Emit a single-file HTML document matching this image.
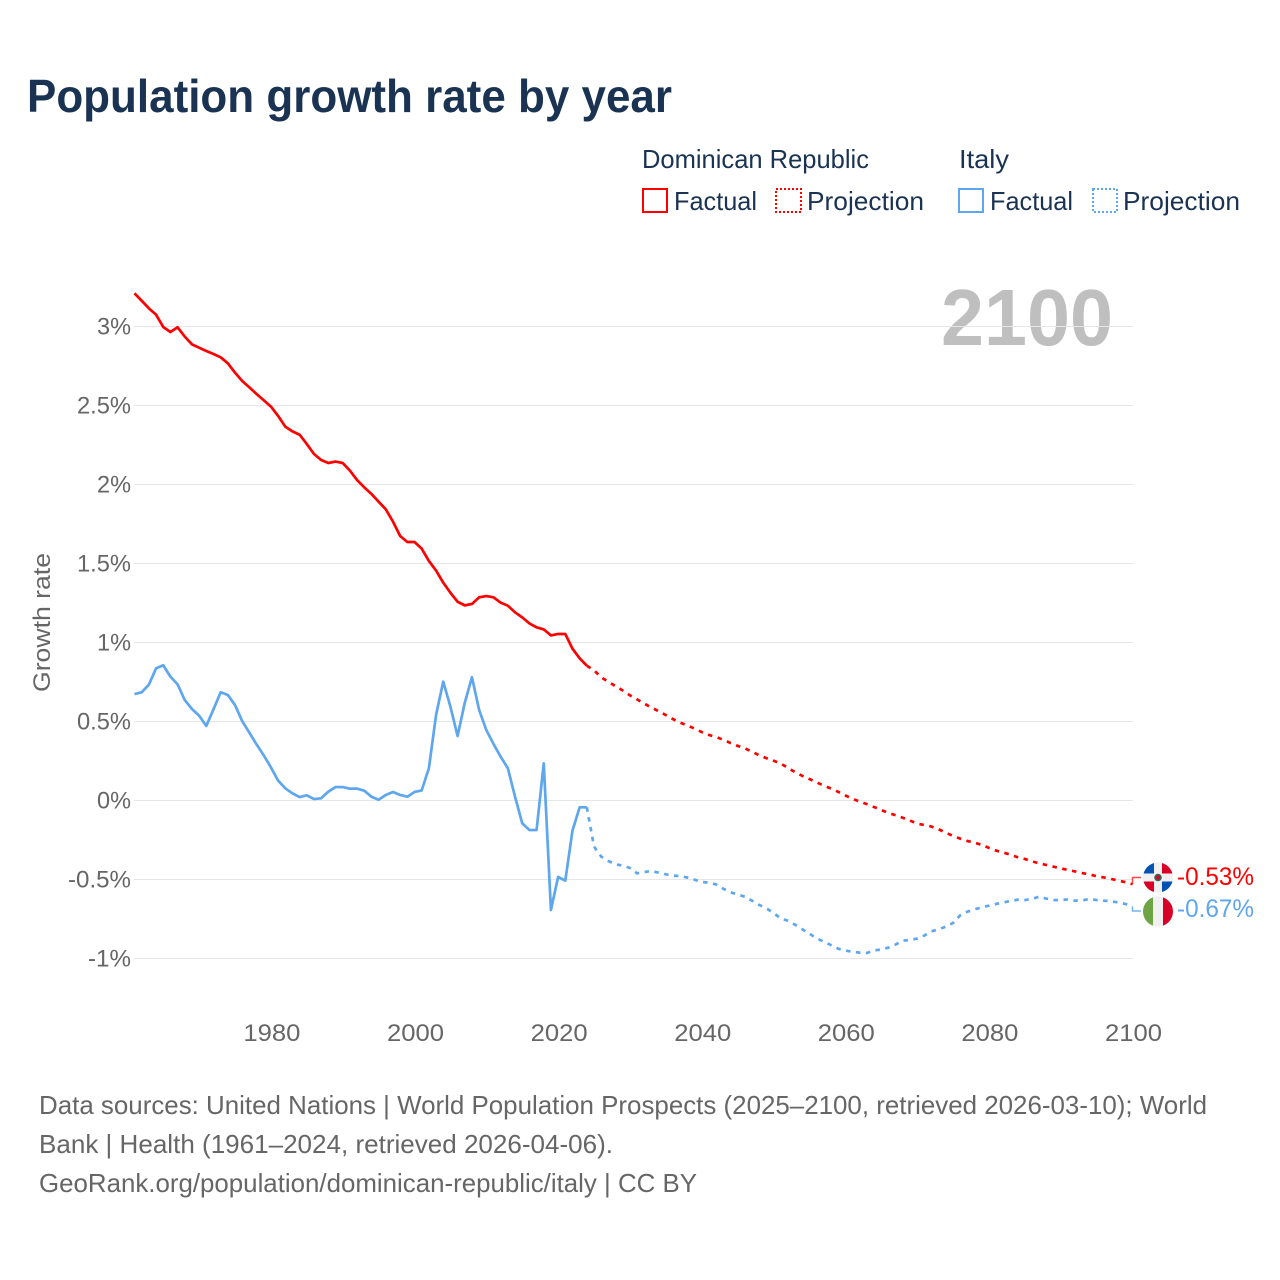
<!DOCTYPE html>
<html lang="en">
<head>
<meta charset="utf-8">
<title>Population growth rate by year</title>
<style>
html,body{margin:0;padding:0;background:#fff;}
svg{display:block;font-family:"Liberation Sans",sans-serif;}
</style>
</head>
<body>
<svg id="chart" xmlns="http://www.w3.org/2000/svg" width="1280" height="1280" viewBox="0 0 1280 1280">
  <rect x="0" y="0" width="1280" height="1280" fill="#ffffff"/>
  <text x="27" y="112" font-size="46" font-weight="700" fill="#1a3353" textLength="645" lengthAdjust="spacingAndGlyphs">Population growth rate by year</text>

  <g font-size="26" fill="#1a3353">
    <text x="642" y="168" textLength="227" lengthAdjust="spacingAndGlyphs">Dominican Republic</text>
    <text x="959" y="168" textLength="50" lengthAdjust="spacingAndGlyphs">Italy</text>
    <g>
      <rect x="643" y="189" width="24" height="23" fill="none" stroke="#ff0000" stroke-width="2"/>
      <text x="674" y="210" textLength="83" lengthAdjust="spacingAndGlyphs">Factual</text>
    </g>
    <g>
      <rect x="776" y="189" width="25" height="23" fill="none" stroke="#ff0000" stroke-width="2" stroke-dasharray="2 2"/>
      <text x="807" y="210" textLength="117" lengthAdjust="spacingAndGlyphs">Projection</text>
    </g>
    <g>
      <rect x="959" y="189" width="24" height="23" fill="none" stroke="#5ea6ee" stroke-width="2"/>
      <text x="990" y="210" textLength="83" lengthAdjust="spacingAndGlyphs">Factual</text>
    </g>
    <g>
      <rect x="1093" y="189" width="24" height="23" fill="none" stroke="#5ea6ee" stroke-width="2" stroke-dasharray="2 2"/>
      <text x="1123" y="210" textLength="117" lengthAdjust="spacingAndGlyphs">Projection</text>
    </g>
  </g>

  <text x="941" y="345" font-size="80" font-weight="700" fill="#bfbfbf" textLength="172" lengthAdjust="spacingAndGlyphs">2100</text>
  <g id="grid"></g>
  <g id="yticks" font-size="24" fill="#666666" text-anchor="end"></g>
  <g id="xticks" font-size="24" fill="#666666" text-anchor="middle"></g>
  <text transform="translate(50,692) rotate(-90)" font-size="24" fill="#666666" textLength="139" lengthAdjust="spacingAndGlyphs">Growth rate</text>

  <g id="series" fill="none" stroke-width="2.7" stroke-linejoin="round"></g>

  <defs>
    <clipPath id="flag-clip-dr"><circle cx="1158" cy="877.5" r="15"/></clipPath>
    <clipPath id="flag-clip-it"><circle cx="1158" cy="911.5" r="15"/></clipPath>
  </defs>
  <g clip-path="url(#flag-clip-dr)">
    <rect x="1143" y="862" width="30" height="31" fill="#f0f0f0"/>
    <rect x="1143" y="862" width="11" height="11.5" fill="#0052b4"/>
    <rect x="1162" y="862" width="11" height="11.5" fill="#d80027"/>
    <rect x="1143" y="881.5" width="11" height="11.5" fill="#d80027"/>
    <rect x="1162" y="881.5" width="11" height="11.5" fill="#0052b4"/>
    <circle cx="1158" cy="877.5" r="3.8" fill="#2f6d5a"/>
    <circle cx="1158" cy="877.5" r="2.2" fill="#d80027"/>
  </g>
  <g clip-path="url(#flag-clip-it)">
    <rect x="1143" y="896" width="30" height="31" fill="#f0f0f0"/>
    <rect x="1143" y="896" width="10" height="31" fill="#6da544"/>
    <rect x="1163" y="896" width="10" height="31" fill="#d80027"/>
  </g>
  <text id="label-dr" x="1177" y="885" font-size="25" fill="#ff0000" textLength="77" lengthAdjust="spacingAndGlyphs"></text>
  <text id="label-it" x="1177" y="917" font-size="25" fill="#5ea6ee" textLength="77" lengthAdjust="spacingAndGlyphs"></text>

  <g font-size="26" fill="#666666">
    <text x="39" y="1114" textLength="1168" lengthAdjust="spacingAndGlyphs">Data sources: United Nations | World Population Prospects (2025–2100, retrieved 2026-03-10); World</text>
    <text x="39" y="1153" textLength="574" lengthAdjust="spacingAndGlyphs">Bank | Health (1961–2024, retrieved 2026-04-06).</text>
    <text x="39" y="1192" textLength="658" lengthAdjust="spacingAndGlyphs">GeoRank.org/population/dominican-republic/italy | CC BY</text>
  </g>
</svg>
<script>
const factualYears = [1961,1962,1963,1964,1965,1966,1967,1968,1969,1970,1971,1972,1973,1974,1975,1976,1977,1978,1979,1980,1981,1982,1983,1984,1985,1986,1987,1988,1989,1990,1991,1992,1993,1994,1995,1996,1997,1998,1999,2000,2001,2002,2003,2004,2005,2006,2007,2008,2009,2010,2011,2012,2013,2014,2015,2016,2017,2018,2019,2020,2021,2022,2023,2024];
const projectionYears = [2024,2025,2026,2027,2028,2029,2030,2031,2032,2033,2034,2035,2036,2037,2038,2039,2040,2041,2042,2043,2044,2045,2046,2047,2048,2049,2050,2051,2052,2053,2054,2055,2056,2057,2058,2059,2060,2061,2062,2063,2064,2065,2066,2067,2068,2069,2070,2071,2072,2073,2074,2075,2076,2077,2078,2079,2080,2081,2082,2083,2084,2085,2086,2087,2088,2089,2090,2091,2092,2093,2094,2095,2096,2097,2098,2099,2100];
const drFactual = [3.21,3.163,3.115,3.075,2.997,2.965,2.995,2.936,2.887,2.866,2.845,2.826,2.805,2.767,2.708,2.655,2.615,2.573,2.533,2.493,2.434,2.366,2.336,2.315,2.256,2.193,2.155,2.136,2.145,2.136,2.088,2.028,1.982,1.94,1.891,1.843,1.765,1.674,1.636,1.636,1.594,1.516,1.455,1.379,1.315,1.258,1.235,1.244,1.286,1.294,1.286,1.252,1.233,1.191,1.159,1.121,1.096,1.083,1.045,1.054,1.054,0.961,0.9,0.853];
const drProjection = [0.853,0.824,0.78,0.751,0.724,0.696,0.666,0.64,0.613,0.588,0.565,0.541,0.515,0.493,0.475,0.455,0.433,0.415,0.401,0.385,0.364,0.346,0.33,0.309,0.286,0.268,0.252,0.234,0.207,0.179,0.156,0.136,0.115,0.094,0.076,0.055,0.032,0.011,-0.007,-0.023,-0.041,-0.06,-0.079,-0.093,-0.109,-0.127,-0.146,-0.155,-0.165,-0.182,-0.204,-0.224,-0.241,-0.256,-0.268,-0.28,-0.3,-0.317,-0.329,-0.343,-0.359,-0.37,-0.385,-0.398,-0.408,-0.419,-0.429,-0.44,-0.449,-0.459,-0.468,-0.479,-0.487,-0.496,-0.507,-0.516,-0.53];
const italyFactual = [0.674,0.685,0.733,0.836,0.856,0.784,0.735,0.636,0.579,0.537,0.472,0.577,0.685,0.668,0.604,0.503,0.429,0.355,0.286,0.21,0.126,0.077,0.045,0.022,0.033,0.009,0.014,0.056,0.085,0.085,0.075,0.075,0.062,0.024,0.005,0.035,0.054,0.035,0.024,0.054,0.064,0.204,0.541,0.752,0.594,0.408,0.619,0.78,0.573,0.446,0.358,0.277,0.204,0.024,-0.144,-0.187,-0.187,0.235,-0.693,-0.484,-0.507,-0.191,-0.043,-0.043];
const italyProjection = [-0.043,-0.292,-0.355,-0.383,-0.404,-0.412,-0.427,-0.461,-0.453,-0.446,-0.457,-0.467,-0.476,-0.478,-0.488,-0.501,-0.516,-0.52,-0.531,-0.558,-0.581,-0.594,-0.609,-0.634,-0.661,-0.682,-0.712,-0.746,-0.761,-0.786,-0.815,-0.843,-0.872,-0.893,-0.915,-0.938,-0.95,-0.957,-0.963,-0.965,-0.948,-0.944,-0.931,-0.912,-0.887,-0.883,-0.874,-0.855,-0.828,-0.815,-0.799,-0.775,-0.727,-0.704,-0.689,-0.676,-0.666,-0.655,-0.645,-0.636,-0.628,-0.63,-0.623,-0.609,-0.621,-0.63,-0.63,-0.626,-0.634,-0.632,-0.623,-0.63,-0.634,-0.638,-0.645,-0.655,-0.67];
const yTickValues = [3,2.5,2,1.5,1,0.5,0,-0.5,-1];
const xTickValues = [1980,2000,2020,2040,2060,2080,2100];

const NS = 'http://www.w3.org/2000/svg';
const X0 = 134.5, X1 = 1132.5, Y_TOP = 326.5, Y_BOTTOM = 958.5;
function xScale(year) { return X0 + (year - 1961) * (X1 - X0) / (2100 - 1961); }
function yScale(value) { return Y_BOTTOM - (value + 1) * (Y_BOTTOM - Y_TOP) / 4; }
function make(tag, parent) {
  const el = document.createElementNS(NS, tag);
  parent.appendChild(el);
  return el;
}
function pathFrom(years, values) {
  return values.map(function (v, i) {
    return (i ? 'L' : 'M') + xScale(years[i]).toFixed(2) + ' ' + yScale(v).toFixed(2);
  }).join(' ');
}
function tickWidth(s) {
  let w = 0;
  for (const c of s) { w += c === '%' ? 20 : c === '.' ? 6 : c === '-' ? 9 : 14; }
  return w;
}

const gridGroup = document.getElementById('grid');
const yGroup = document.getElementById('yticks');
yTickValues.forEach(function (v) {
  const line = make('line', gridGroup);
  
  
  line.setAttribute('x1', 134);
  line.setAttribute('x2', 1133);
  line.setAttribute('y1', yScale(v));
  line.setAttribute('y2', yScale(v));
  line.setAttribute('stroke', '#e6e6e6');
  line.setAttribute('stroke-width', 1);
  const label = make('text', yGroup);
  
  
  label.setAttribute('x', 131);
  label.setAttribute('y', yScale(v) + 8);
  const s = v + '%';
  label.setAttribute('textLength', tickWidth(s));
  label.setAttribute('lengthAdjust', 'spacingAndGlyphs');
  label.textContent = s;
});

const xGroup = document.getElementById('xticks');
xTickValues.forEach(function (year) {
  const label = make('text', xGroup);
  
  
  label.setAttribute('x', xScale(year) + 1);
  label.setAttribute('y', 1041);
  label.setAttribute('textLength', 57);
  label.setAttribute('lengthAdjust', 'spacingAndGlyphs');
  label.textContent = year;
});

const seriesGroup = document.getElementById('series');

const drFactualLine = make('path', seriesGroup);


drFactualLine.setAttribute('d', pathFrom(factualYears, drFactual));
drFactualLine.setAttribute('stroke', '#ff0000');

const drProjectionLine = make('path', seriesGroup);


drProjectionLine.setAttribute('d', pathFrom(projectionYears, drProjection));
drProjectionLine.setAttribute('stroke', '#ff0000');
drProjectionLine.setAttribute('stroke-dasharray', '4.5 5.5');

const italyFactualLine = make('path', seriesGroup);


italyFactualLine.setAttribute('d', pathFrom(factualYears, italyFactual));
italyFactualLine.setAttribute('stroke', '#5ea6ee');

const italyProjectionLine = make('path', seriesGroup);


italyProjectionLine.setAttribute('d', pathFrom(projectionYears, italyProjection));
italyProjectionLine.setAttribute('stroke', '#5ea6ee');
italyProjectionLine.setAttribute('stroke-dasharray', '4.5 5.5');

const drLast = drProjection[drProjection.length - 1];
const italyLast = italyProjection[italyProjection.length - 1];

const drConnector = make('path', seriesGroup);


drConnector.setAttribute('d', 'M' + xScale(2100) + ' ' + yScale(drLast) + ' V877.5 H1141');
drConnector.setAttribute('stroke', '#ff0000');
drConnector.setAttribute('stroke-width', 1.5);
drConnector.setAttribute('opacity', 0.7);

const italyConnector = make('path', seriesGroup);


italyConnector.setAttribute('d', 'M' + xScale(2100) + ' ' + yScale(italyLast) + ' V911 H1141');
italyConnector.setAttribute('stroke', '#5ea6ee');
italyConnector.setAttribute('stroke-width', 1.5);
italyConnector.setAttribute('opacity', 0.85);

document.getElementById('label-dr').textContent = drLast.toFixed(2) + '%';
document.getElementById('label-it').textContent = italyLast.toFixed(2) + '%';
</script>
</body>
</html>
